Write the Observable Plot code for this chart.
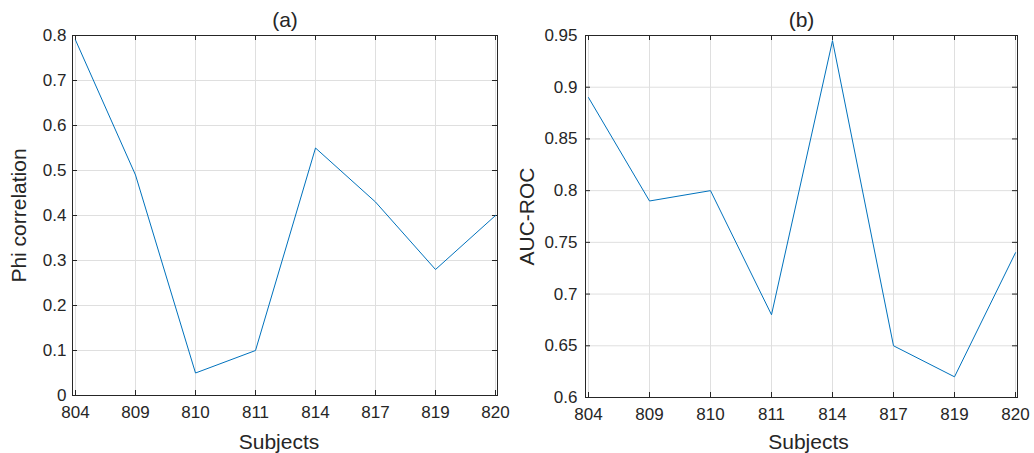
<!DOCTYPE html>
<html>
<head>
<meta charset="utf-8">
<script src="https://cdn.jsdelivr.net/npm/d3@7"></script>
<script src="https://cdn.jsdelivr.net/npm/@observablehq/plot@0.6"></script>
<style>
  html, body { margin: 0; padding: 0; background: #fff; }
  #wrap { display: flex; width: 1034px; height: 453px; }
  svg { display: block; }
</style>
</head>
<body>
<div id="wrap"></div>
<script>
// ---- data ----
const subjects = ["804", "809", "810", "811", "814", "817", "819", "820"];
const phiCorrelation = [0.79, 0.49, 0.05, 0.10, 0.55, 0.43, 0.28, 0.40];
const aucRoc = [0.89, 0.79, 0.80, 0.68, 0.945, 0.65, 0.62, 0.74];
const phiTicks = [0, 0.1, 0.2, 0.3, 0.4, 0.5, 0.6, 0.7, 0.8];
const aucTicks = [0.6, 0.65, 0.7, 0.75, 0.8, 0.85, 0.9, 0.95];
const titles = ["(a)", "(b)"];
const yLabels = ["Phi correlation", "AUC-ROC"];
const xLabel = "Subjects";

const TEXT = "#262626";
const GRID = "#dfdfdf";
const LINE = "#0072BD";
const FONT = "'Liberation Sans', Arial, Helvetica, sans-serif";

function panel(cfg) {
  const data = subjects.map((s, i) => ({subject: s, value: cfg.values[i]}));
  const pw = cfg.width - cfg.ml - cfg.mr;
  const ph = cfg.height - cfg.mt - cfg.mb;
  const fmt = d => String(+(+d).toFixed(2));
  const tick = 5;
  return Plot.plot({
    width: cfg.width,
    height: cfg.height,
    marginLeft: cfg.ml,
    marginRight: cfg.mr,
    marginTop: cfg.mt,
    marginBottom: cfg.mb,
    style: {fontFamily: FONT, color: TEXT, background: "#fff", overflow: "visible"},
    x: {type: "point", domain: subjects, padding: 0, label: null},
    y: {domain: cfg.domain, label: null},
    marks: [
      Plot.gridX(subjects, {stroke: GRID, strokeOpacity: 1}),
      Plot.gridY(cfg.ticks, {stroke: GRID, strokeOpacity: 1}),
      // inward ticks (MATLAB box style)
      Plot.tickX(subjects, {x: d => d, stroke: TEXT, insetTop: ph - tick}),
      Plot.tickX(subjects, {x: d => d, stroke: TEXT, insetBottom: ph - tick}),
      Plot.tickY(cfg.ticks, {y: d => d, stroke: TEXT, insetLeft: pw - tick}),
      Plot.tickY(cfg.ticks, {y: d => d, stroke: TEXT, insetRight: pw - tick}),
      Plot.line(data, {x: "subject", y: "value", stroke: LINE, strokeWidth: 1}),
      Plot.frame({stroke: TEXT, strokeWidth: 1}),
      Plot.axisX(subjects, {tickSize: 0, tickPadding: cfg.xPad, fontSize: 17, fill: TEXT, label: null}),
      Plot.axisY(cfg.ticks, {tickSize: 0, tickPadding: cfg.yPad, fontSize: 17, fill: TEXT, tickFormat: fmt, label: null}),
      Plot.text([cfg.title], {text: d => d, frameAnchor: "top", lineAnchor: "middle", textAnchor: "middle", dy: -15, fontSize: 21, fill: TEXT}),
      Plot.text([xLabel], {text: d => d, frameAnchor: "bottom", lineAnchor: "middle", textAnchor: "middle", dy: cfg.xLabDy, dx: cfg.xLabDx, fontSize: 21, fill: TEXT}),
      Plot.text([cfg.yLabel], {text: d => d, frameAnchor: "left", lineAnchor: "middle", textAnchor: "middle", dx: cfg.yLabDx, rotate: -90, fontSize: 21, fill: TEXT})
    ]
  });
}

const wrap = document.getElementById("wrap");
wrap.appendChild(panel({
  width: 520, height: 453, ml: 72, mr: 23, mt: 35, mb: 58,
  values: phiCorrelation, domain: [0, 0.8], ticks: phiTicks,
  title: titles[0], yLabel: yLabels[0],
  xPad: 10, yPad: 6, xLabDy: 47, xLabDx: -6, yLabDx: -53
}));
wrap.appendChild(panel({
  width: 514, height: 453, ml: 65, mr: 17, mt: 35, mb: 56,
  values: aucRoc, domain: [0.6, 0.95], ticks: aucTicks,
  title: titles[1], yLabel: yLabels[1],
  xPad: 10, yPad: 8, xLabDy: 45, xLabDx: 7, yLabDx: -58
}));
</script>
</body>
</html>
